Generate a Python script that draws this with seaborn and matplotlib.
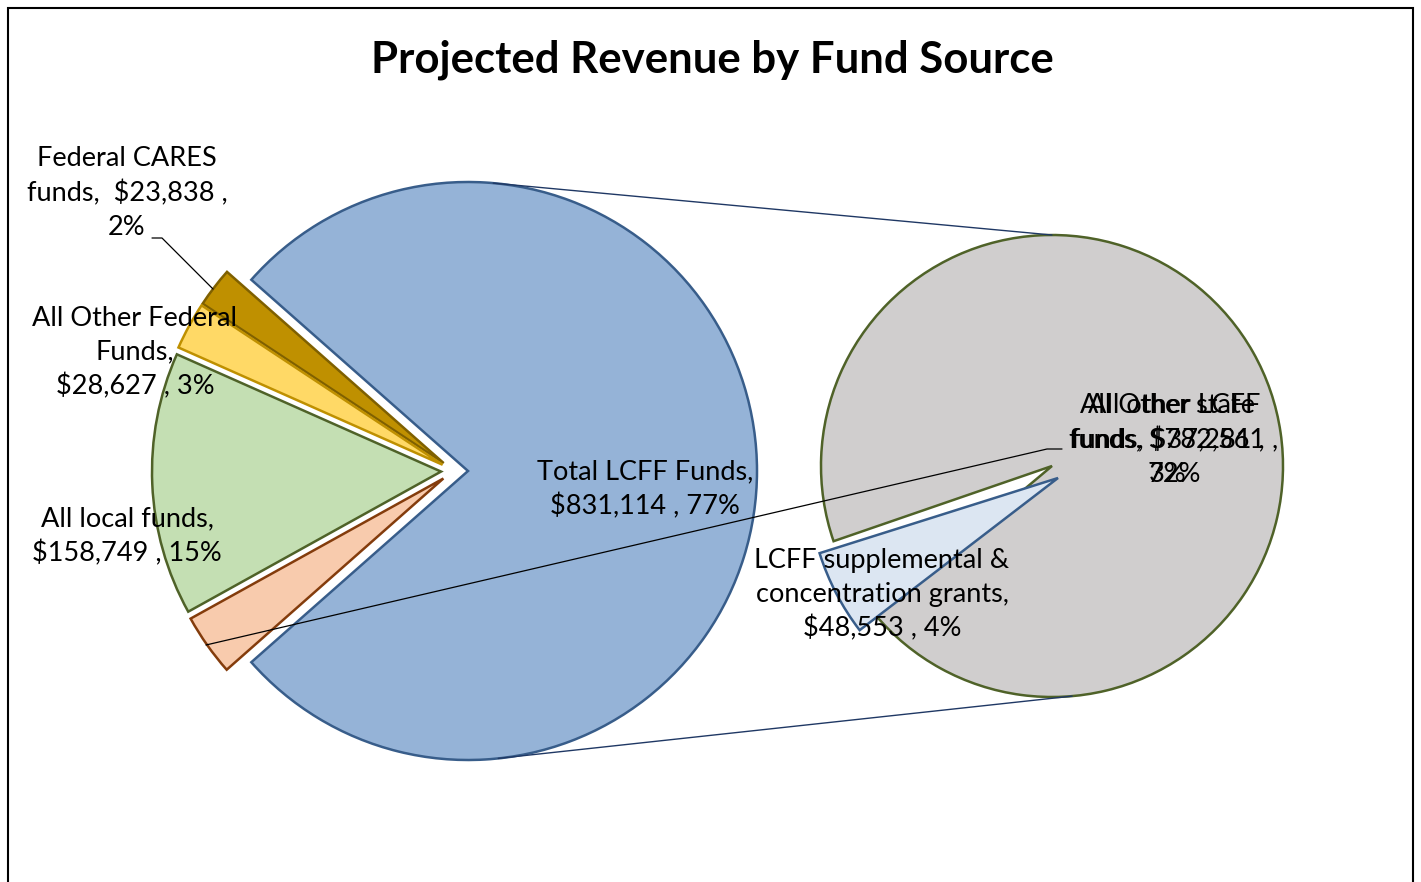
import matplotlib

matplotlib.use("Agg")
import matplotlib.pyplot as plt
import numpy as np
import seaborn as sns

sns.set_theme(style="white")
plt.rcParams["font.family"] = ["Lato", "DejaVu Sans"]

W, H = 1421, 882

# Main pie: Total LCFF is the slice split out into the second pie
main_names = [
    "Total LCFF Funds,",
    "Federal CARES\nfunds, ",
    "All Other Federal\nFunds,",
    "All local funds,",
    "All Other state\nfunds,",
]
main_values = [831114, 23838, 28627, 158749, 37281]
main_colors = ["#95B3D7", "#BF9000", "#FFD966", "#C4DFB3", "#F8CBAD"]
main_edges = ["#385D8A", "#7F6000", "#BF9000", "#4F6228", "#843C0C"]

# Second pie: breakdown of Total LCFF
lcff_names = ["LCFF supplemental &\nconcentration grants,", "All other LCFF\nfunds,"]
lcff_values = [48553, 782561]
lcff_colors = ["#DCE6F2", "#D0CECE"]
lcff_edges = ["#385D8A", "#4F6228"]

total = sum(main_values)


def pct(v):
    return round(v / total * 100)


def money(v):
    return f"${v:,}"


def px(x, y):
    # pixel position (y measured from top) -> data coords
    return x, H - y


fig = plt.figure(figsize=(W / 100, H / 100), dpi=100)
ax = fig.add_axes([0, 0, 1, 1])

# ---- main pie (explode is in data units here, i.e. pixels)
main_c = px(468, 471)
main_r = 289
start = -main_values[0] / total * 180
wedges, _ = ax.pie(
    main_values,
    colors=main_colors,
    startangle=start,
    counterclock=True,
    radius=main_r,
    center=main_c,
    explode=[0, 13, 13, 13, 13],
    wedgeprops=dict(linewidth=1.8),
)
for w, ec in zip(wedges, main_edges):
    w.set_edgecolor(ec)
# the small slices sit slightly left of the LCFF slice
for w in wedges[1:]:
    cx, cy = w.center
    w.set_center((cx - 14, cy))

# ---- second pie
sec_c = px(1052, 466)
sec_r = 231
wedges2, _ = ax.pie(
    lcff_values,
    colors=lcff_colors,
    startangle=199,
    counterclock=True,
    radius=sec_r,
    center=sec_c,
    wedgeprops=dict(linewidth=1.8),
)
for w, ec in zip(wedges2, lcff_edges):
    w.set_edgecolor(ec)
# pulled out slice
wedges2[0].set_center(px(1058, 478))
wedges2[0].set_radius(250)
wedges2[0].set_theta1(197.5)
wedges2[0].set_theta2(217.5)
wedges2[0].set_zorder(3)

# ---- connector lines between the pies
a1, a2 = np.radians(85), np.radians(90)
ax.plot(
    [main_c[0] + main_r * np.cos(a1), sec_c[0] + sec_r * np.cos(a2)],
    [main_c[1] + main_r * np.sin(a1), sec_c[1] + sec_r * np.sin(a2)],
    color="#1F3864", lw=1.0, zorder=1,
)
b1, b2 = np.radians(-84), np.radians(-85)
ax.plot(
    [main_c[0] + main_r * np.cos(b1), sec_c[0] + sec_r * np.cos(b2)],
    [main_c[1] + main_r * np.sin(b1), sec_c[1] + sec_r * np.sin(b2)],
    color="#1F3864", lw=1.0, zorder=1,
)

# ---- leader lines
ax.plot(*zip(px(152, 238), px(162, 238), px(213, 289)), color="black", lw=0.9, zorder=4)
ax.plot(*zip(px(206, 645), px(1047, 449), px(1062, 449)), color="black", lw=0.9, zorder=4)

# ---- data labels
fs = 19.5
ls = 1.42

labels = [
    (main_names[0] + f"\n{money(main_values[0])} , {pct(main_values[0])}%", (645, 489)),
    (main_names[1] + f" {money(main_values[1])} ,\n{pct(main_values[1])}%", (127, 193)),
    (main_names[2] + f"\n{money(main_values[2])} , {pct(main_values[2])}%", (135, 353)),
    (main_names[3] + f"\n{money(main_values[3])} , {pct(main_values[3])}%", (127, 536)),
    (main_names[4] + f" {money(main_values[4])} ,\n{pct(main_values[4])}%", (1168, 440)),
    (lcff_names[0] + f"\n{money(lcff_values[0])} , {pct(lcff_values[0])}%", (882, 595)),
    (lcff_names[1] + f" {money(lcff_values[1])} ,\n{pct(lcff_values[1])}%", (1174, 440)),
]
for text, (x, y) in labels:
    ax.text(*px(x, y), text, ha="center", va="center", multialignment="center",
            fontsize=fs, linespacing=ls, color="black", zorder=5)

ax.text(*px(712, 60), "Projected Revenue by Fund Source", ha="center", va="center",
        fontsize=31.5, fontweight="bold", color="black")

# chart border
ax.add_patch(plt.Rectangle(px(8, 900), 1405, 892, fill=False, ec="black", lw=1.5, zorder=6))

ax.set_xlim(0, W)
ax.set_ylim(0, H)
ax.set_aspect("equal")
ax.axis("off")

fig.savefig("out.png", dpi=100)
